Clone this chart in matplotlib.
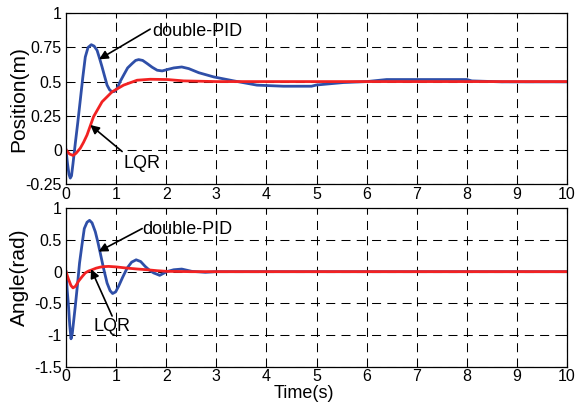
import matplotlib
matplotlib.use("Agg")
import matplotlib.pyplot as plt
from matplotlib.ticker import FixedLocator, FixedFormatter

# ---------------- data ----------------
pos_pid_t = [0, 0.03, 0.06, 0.085, 0.11, 0.14, 0.186, 0.235, 0.285, 0.335, 0.385, 0.44,
             0.505, 0.56, 0.62, 0.67, 0.72, 0.77, 0.82, 0.87, 0.92, 0.97, 1.02, 1.08,
             1.15, 1.23, 1.32, 1.39, 1.45, 1.53, 1.62, 1.72, 1.82, 1.92, 2.02, 2.15,
             2.31, 2.45, 2.65, 2.95, 3.35, 3.81, 4.34, 4.9, 5.0, 5.54, 6.0, 6.4, 7.0,
             8.0, 8.1, 8.7, 10]
pos_pid_y = [0, -0.1, -0.18, -0.207, -0.19, -0.1, 0.049, 0.2, 0.364, 0.53, 0.68, 0.75,
             0.77, 0.76, 0.729, 0.67, 0.607, 0.54, 0.474, 0.44, 0.425, 0.428, 0.45, 0.5,
             0.547, 0.6, 0.632, 0.655, 0.661, 0.655, 0.632, 0.605, 0.583, 0.578, 0.588,
             0.6, 0.607, 0.595, 0.565, 0.534, 0.505, 0.474, 0.466, 0.466, 0.475, 0.493,
             0.5, 0.515, 0.515, 0.515, 0.505, 0.498, 0.498]

pos_lqr_t = [0, 0.07, 0.14, 0.2, 0.285, 0.35, 0.42, 0.55, 0.72, 0.92, 1.15, 1.42, 1.68,
             2.02, 2.35, 3.0, 10]
pos_lqr_y = [0, -0.03, -0.041, -0.025, 0.012, 0.055, 0.109, 0.243, 0.352, 0.425, 0.474,
             0.51, 0.517, 0.515, 0.505, 0.5, 0.5]

ang_pid_t = [0, 0.025, 0.05, 0.075, 0.1, 0.125, 0.15, 0.186, 0.23, 0.27, 0.32, 0.365,
             0.42, 0.47, 0.52, 0.585, 0.635, 0.685, 0.75, 0.82, 0.88, 0.93, 0.99, 1.05,
             1.13, 1.22, 1.31, 1.40, 1.49, 1.58, 1.67, 1.75, 1.87, 2.01, 2.15, 2.31,
             2.51, 2.78, 3.0, 10]
ang_pid_y = [0, -0.3, -0.54, -0.85, -1.06, -0.98, -0.8, -0.54, -0.2, 0.135, 0.43, 0.68,
             0.78, 0.81, 0.77, 0.63, 0.47, 0.29, 0.05, -0.18, -0.3, -0.345, -0.32, -0.23,
             -0.09, 0.056, 0.15, 0.187, 0.16, 0.083, 0.02, -0.02, -0.058, 0.0, 0.03,
             0.041, 0.005, -0.01, 0, 0]

ang_lqr_t = [0, 0.05, 0.1, 0.14, 0.19, 0.25, 0.32, 0.385, 0.45, 0.52, 0.6, 0.685, 0.77,
             0.85, 1.0, 1.22, 1.42, 1.62, 1.82, 2.01, 2.5, 10]
ang_lqr_y = [0, -0.12, -0.22, -0.256, -0.23, -0.15, -0.08, -0.02, 0.01, 0.03, 0.055,
             0.072, 0.08, 0.083, 0.075, 0.056, 0.042, 0.03, 0.015, 0.005, 0, 0]

x_ticks = [0, 1, 2, 3, 4, 5, 6, 7, 8, 9, 10]
x_ticklabels = ["0", "1", "2", "3", "4", "5", "6", "7", "8", "9", "10"]
pos_ticks = [-0.25, 0, 0.25, 0.5, 0.75, 1]
pos_ticklabels = ["-0.25", "0", "0.25", "0.5", "0.75", "1"]
ang_ticks = [-1.5, -1, -0.5, 0, 0.5, 1]
ang_ticklabels = ["-1.5", "-1", "-0.5", "0", "0.5", "1"]

# ---------------- style ----------------
plt.rcParams['font.family'] = ['Liberation Sans', 'DejaVu Sans']
plt.rcParams['lines.scale_dashes'] = False

BLUE = '#2F4FA8'
RED = '#F22222'
W, H = 577, 405

fig = plt.figure(figsize=(W / 100, H / 100), dpi=100)


def px_axes(l, t, r, b):
    return fig.add_axes([l / W, 1 - b / H, (r - l) / W, (b - t) / H])


ax1 = px_axes(66, 13.3, 567, 184)
ax2 = px_axes(66, 208.3, 567, 366.7)


def style(ax, yt, ytl, ylim):
    ax.set_xlim(0, 10)
    ax.set_ylim(*ylim)
    ax.xaxis.set_major_locator(FixedLocator(x_ticks))
    ax.xaxis.set_major_formatter(FixedFormatter(x_ticklabels))
    ax.yaxis.set_major_locator(FixedLocator(yt))
    ax.yaxis.set_major_formatter(FixedFormatter(ytl))
    ax.tick_params(direction='in', length=3.5, width=0.75, top=True, right=True,
                   labelsize=11.5, pad=3, colors='black')
    ax.tick_params(axis='x', pad=2)
    ax.grid(True, color='black', linewidth=0.75, linestyle=(0, (6.5, 4.5)))
    for s in ax.spines.values():
        s.set_linewidth(0.9)
        s.set_color('black')


style(ax1, pos_ticks, pos_ticklabels, (-0.25, 1))
style(ax2, ang_ticks, ang_ticklabels, (-1.5, 1))

ax1.plot(pos_pid_t, pos_pid_y, color=BLUE, lw=2.0, solid_joinstyle='round')
ax1.plot(pos_lqr_t, pos_lqr_y, color=RED, lw=2.0, solid_joinstyle='round')
ax2.plot(ang_pid_t, ang_pid_y, color=BLUE, lw=2.0, solid_joinstyle='round')
ax2.plot(ang_lqr_t, ang_lqr_y, color=RED, lw=2.0, solid_joinstyle='round')

ax1.set_ylabel('Position(m)', fontsize=15, ha='center', va='center')
ax1.yaxis.set_label_coords((19 - 66) / 501, 0.5)
ax2.set_ylabel('Angle(rad)', fontsize=15, ha='center', va='center')
ax2.yaxis.set_label_coords((19.5 - 66) / 501, 0.563)
ax2.set_xlabel('Time(s)', fontsize=13, ha='center', va='top')
ax2.xaxis.set_label_coords(0.474, (366.7 - 385.5) / 158.4)

arrow = dict(arrowstyle='-|>', color='black', lw=1.2, mutation_scale=13,
             shrinkA=0, shrinkB=0)
afs = 13
ax1.annotate('', xy=(0.66, 0.663), xytext=(1.68, 0.884), arrowprops=arrow)
ax1.text(1.72, 0.865, 'double-PID', fontsize=afs, ha='left', va='center')
ax1.annotate('', xy=(0.485, 0.182), xytext=(1.12, -0.012), arrowprops=arrow)
ax1.text(1.14, -0.102, 'LQR', fontsize=afs, ha='left', va='center')

ax2.annotate('', xy=(0.65, 0.317), xytext=(1.52, 0.68), arrowprops=arrow)
ax2.text(1.53, 0.672, 'double-PID', fontsize=afs, ha='left', va='center')
ax2.annotate('', xy=(0.5, 0.04), xytext=(0.92, -0.70), arrowprops=arrow)
ax2.text(0.55, -0.865, 'LQR', fontsize=afs, ha='left', va='center')

fig.savefig('out.png', dpi=100)
